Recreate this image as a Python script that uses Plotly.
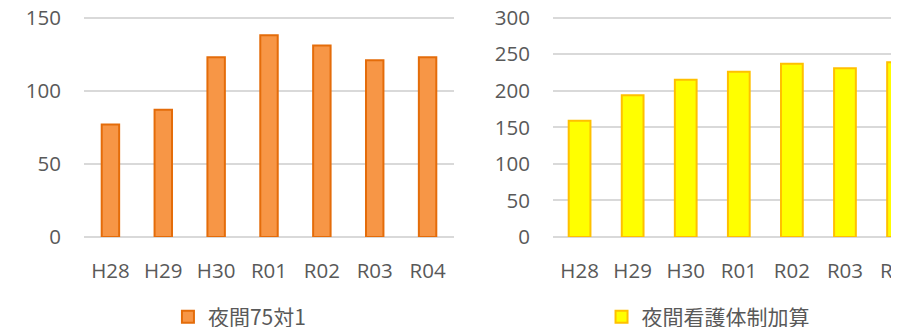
import plotly.graph_objects as go

categories = ["H28", "H29", "H30", "R01", "R02", "R03", "R04"]
yakan75 = [77, 87, 123, 138, 131, 121, 123]
kango_taisei = [159, 194, 215, 226, 237, 231, 239]
name_left = "夜間75対1"
name_right = "夜間看護体制加算"
left_ticks = [0, 50, 100, 150]
right_ticks = [0, 50, 100, 150, 200, 250, 300]

TXT = "#595959"
GRID = "#D9D9D9"
FONT = "Open Sans, Noto Sans CJK JP, sans-serif"

fig = go.Figure()
fig.add_trace(go.Bar(
    x=categories, y=yakan75, name=name_left, width=0.33,
    marker=dict(color="#F79646", line=dict(color="#E46C0A", width=2)),
    xaxis="x", yaxis="y", legend="legend", showlegend=True,
))
fig.add_trace(go.Bar(
    x=categories, y=kango_taisei, name=name_right, width=0.41,
    marker=dict(color="#FFFF00", line=dict(color="#FFC000", width=2)),
    xaxis="x2", yaxis="y2", legend="legend2", showlegend=True,
))

axis_common = dict(showline=False, ticks="", ticklabeloverflow="allow",
                   tickfont=dict(size=20.5, color=TXT, family=FONT))

# the page body adds an 8px margin, so the figure is sized to fill the rest of the window
fig.update_layout(
    width=891, height=319,
    margin=dict(l=76, r=0, t=8, b=90, autoexpand=False),
    paper_bgcolor="white", plot_bgcolor="white",
    font=dict(family=FONT, color=TXT),
    xaxis=dict(domain=[0, 0.454], range=[-0.5, 6.5], showgrid=False, zeroline=False,
               ticklabelstandoff=19, anchor="y", **axis_common),
    yaxis=dict(range=[0, 151.2], tickvals=left_ticks, showgrid=True, gridcolor=GRID, gridwidth=1.5,
               zeroline=True, zerolinecolor=GRID, zerolinewidth=1.5,
               ticklabelstandoff=22, anchor="x", **axis_common),
    xaxis2=dict(domain=[0.5755, 1], range=[-0.5, 6.018], showgrid=False, zeroline=False,
                ticklabelstandoff=19, anchor="y2", **axis_common),
    yaxis2=dict(range=[0, 302.4], tickvals=right_ticks, showgrid=True, gridcolor=GRID, gridwidth=1.5,
                zeroline=True, zerolinecolor=GRID, zerolinewidth=1.5,
                ticklabelstandoff=22, anchor="x2", **axis_common),
    legend=dict(orientation="h", x=0.103, xanchor="left", y=-0.362, yanchor="middle",
                font=dict(size=21, color=TXT, family="Noto Sans CJK JP"), bgcolor="rgba(0,0,0,0)"),
    legend2=dict(orientation="h", x=0.635, xanchor="left", y=-0.362, yanchor="middle",
                 font=dict(size=21, color=TXT, family="Noto Sans CJK JP"), bgcolor="rgba(0,0,0,0)"),
    bargap=0.5,
)

fig.write_html("out.html")
